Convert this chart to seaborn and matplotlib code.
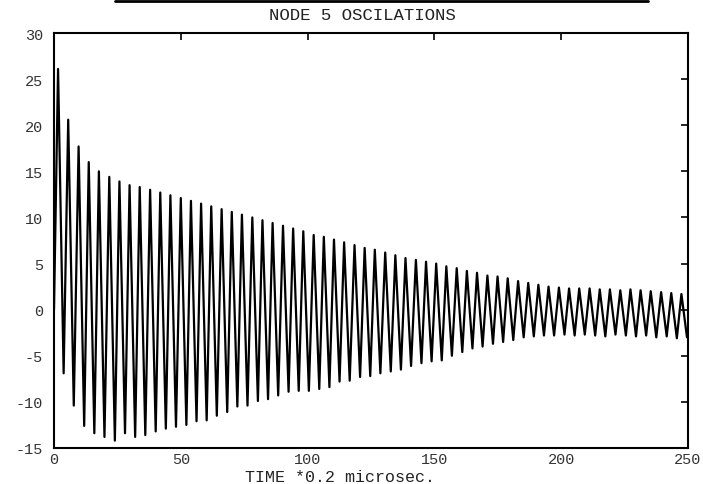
import matplotlib
matplotlib.use('Agg')
import matplotlib.pyplot as plt
import matplotlib.ticker as tkr
from matplotlib.lines import Line2D
import pandas as pd
import seaborn as sns

# Extrema of the node 5 oscillation
peak_t = [1.6, 5.6, 9.7, 13.7, 17.7, 21.8, 25.8, 29.8, 33.8, 37.9,
          41.9, 45.9, 50.0, 54.0, 58.0, 62.0, 66.1, 70.1, 74.1, 78.2,
          82.2, 86.2, 90.3, 94.3, 98.3, 102.4, 106.4, 110.4, 114.4, 118.5,
          122.5, 126.5, 130.6, 134.6, 138.6, 142.7, 146.7, 150.7, 154.7, 158.8,
          162.8, 166.8, 170.9, 174.9, 178.9, 183.0, 187.0, 191.0, 195.0, 199.1,
          203.1, 207.1, 211.2, 215.2, 219.2, 223.3, 227.3, 231.3, 235.3, 239.4,
          243.4, 247.4]
peak_v = [26.1, 20.6, 17.7, 16.0, 15.0, 14.4, 13.9, 13.5, 13.3, 13.0,
          12.7, 12.4, 12.1, 11.8, 11.5, 11.2, 10.9, 10.6, 10.3, 10.0,
          9.7, 9.4, 9.1, 8.8, 8.5, 8.1, 7.9, 7.6, 7.3, 7.0,
          6.7, 6.5, 6.2, 5.9, 5.6, 5.4, 5.2, 5.0, 4.7, 4.5,
          4.2, 4.0, 3.7, 3.6, 3.4, 3.1, 2.9, 2.7, 2.5, 2.4,
          2.3, 2.3, 2.3, 2.2, 2.2, 2.1, 2.2, 2.1, 2.0, 1.9,
          1.8, 1.7]
trough_t = [3.8, 7.8, 11.9, 15.9, 19.9, 24.0, 28.0, 32.0, 36.0, 40.1,
            44.1, 48.1, 52.2, 56.2, 60.2, 64.2, 68.3, 72.3, 76.3, 80.4,
            84.4, 88.4, 92.5, 96.5, 100.5, 104.6, 108.6, 112.6, 116.6, 120.7,
            124.7, 128.7, 132.8, 136.8, 140.8, 144.9, 148.9, 152.9, 156.9, 161.0,
            165.0, 169.0, 173.1, 177.1, 181.1, 185.2, 189.2, 193.2, 197.2, 201.3,
            205.3, 209.3, 213.4, 217.4, 221.4, 225.5, 229.5, 233.5, 237.5, 241.6,
            245.6, 249.6]
trough_v = [-6.9, -10.4, -12.6, -13.4, -13.8, -14.2, -13.4, -13.8, -13.6, -13.2,
            -12.9, -12.7, -12.5, -12.1, -12.0, -11.5, -11.1, -10.5, -10.4, -9.9,
            -9.7, -9.3, -8.9, -8.8, -8.8, -8.6, -8.4, -7.8, -7.7, -7.3,
            -7.2, -6.9, -6.7, -6.5, -6.1, -5.8, -5.6, -5.5, -5.0, -4.6,
            -4.2, -4.0, -3.7, -3.5, -3.3, -3.0, -2.9, -2.8, -2.8, -2.7,
            -2.8, -2.7, -2.8, -2.9, -2.7, -2.8, -2.9, -2.8, -3.0, -2.9,
            -3.1, -3.0]
start_t = [0.0]
start_v = [0.0]

x_ticks = [0, 50, 100, 150, 200, 250]
y_ticks = [-15, -10, -5, 0, 5, 10, 15, 20, 25, 30]

df = pd.DataFrame({'t': start_t + peak_t + trough_t,
                   'v': start_v + peak_v + trough_v}).sort_values('t')

sns.set_style('white')
plt.rcParams['font.family'] = ['Liberation Mono', 'DejaVu Sans Mono']
plt.rcParams['axes.unicode_minus'] = False

fig = plt.figure(figsize=(7.03, 4.85), dpi=100)
ax = fig.add_axes([54 / 703, 1 - 449 / 485, (688 - 54) / 703, (449 - 34) / 485])

sns.lineplot(data=df, x='t', y='v', sort=False, estimator=None,
             color='black', linewidth=1.6, ax=ax)

ax.set_xlim(0, 250)
ax.set_ylim(-15, 30)
ax.set_xticks(x_ticks)
ax.set_yticks(y_ticks)
ax.xaxis.set_major_formatter(tkr.FuncFormatter(lambda x, p: str(int(x))))
ax.yaxis.set_major_formatter(tkr.FuncFormatter(lambda y, p: str(int(y))))
ax.tick_params(direction='in', length=5, width=1.2, top=True, right=True,
               labelsize=11, labelcolor='#333333', colors='black')
ax.tick_params(axis='x', pad=3)
ax.tick_params(axis='y', pad=8)
ax.set_xlabel('')
ax.set_ylabel('')
for s in ax.spines.values():
    s.set_linewidth(1.5)
    s.set_color('black')

fig.text(362 / 703, 1 - 15 / 485, 'NODE 5 OSCILATIONS', ha='center', va='center',
         fontsize=12.5, color='#222222')
fig.text(340 / 703, 1 - 478 / 485, 'TIME *0.2 microsec.', ha='center', va='center',
         fontsize=12, color='#222222')
fig.add_artist(Line2D([115 / 703, 648 / 703], [1 - 2 / 485, 1 - 2 / 485],
                      color='black', linewidth=2))

plt.savefig('out.png', dpi=100)
